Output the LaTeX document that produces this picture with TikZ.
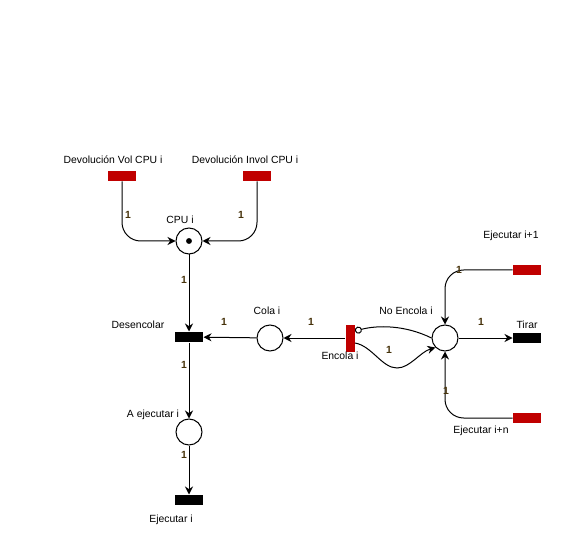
\documentclass[tikz,border=0pt]{standalone}
\usepackage{fontspec}
\setmainfont{Liberation Sans}
\usetikzlibrary{arrows.meta}
\definecolor{rojo}{RGB}{192,0,0}
\definecolor{peso}{RGB}{70,50,10}

\begin{document}
\begin{tikzpicture}[x=0.75pt, y=-0.75pt, >={Stealth[length=6pt,width=6pt]}, line width=0.75pt,
    font=\fontsize{7.8}{9}\selectfont,
    lugar/.style={draw, circle, fill=white, minimum size=19.5pt, inner sep=0pt},
    trans/.style={draw=none, fill=black, minimum width=21pt, minimum height=7.5pt, inner sep=0pt},
    transr/.style={trans, fill=rojo},
    pesos/.style={text=peso, font=\fontsize{7.8}{9}\selectfont\bfseries, inner sep=0pt}]
  \useasboundingbox (0,0) rectangle (571,552);
  % lugares
  \node[lugar] (cpu) at (189,241) {};
  \fill (cpu) circle (2.2pt);
  \node[lugar] (cola) at (270,338) {};
  \node[lugar] (noenc) at (445,338) {};
  \node[lugar] (aej) at (189,432) {};
  % transiciones
  \node[transr] (vol) at (122,176) {};
  \node[transr] (invol) at (257,176) {};
  \node[trans] (desenc) at (189,337) {};
  \node[transr, minimum width=6.75pt, minimum height=20.25pt] (enc) at (350,338) {};
  \node[transr] (ejsig) at (527,270) {};
  \node[trans] (tirar) at (527,338) {};
  \node[transr] (ejn) at (527,418) {};
  \node[trans] (ejec) at (189,500) {};
  % etiquetas
  \node (tvol) at (113,160) {Devolución Vol CPU i};
  \node (tinvol) at (245,160) {Devolución Invol CPU i};
  \node (tcpu) at (180,220) {CPU i};
  \node (tdesenc) at (138,325) {Desencolar};
  \node (tcola) at (267,311) {Cola i};
  \node (tnoenc) at (406,311) {No Encola i};
  \node (tenc) at (340,356) {Encola i};
  \node (tejsig) at (511,236) {Ejecutar i+1};
  \node (ttirar) at (527,325) {Tirar};
  \node (tejn) at (481,431) {Ejecutar i+n};
  \node (taej) at (153,415) {A ejecutar i};
  \node (tejec) at (171,520) {Ejecutar i};
  % arcos
  \draw[->, rounded corners=14pt] (vol.south) |- (cpu.west);
  \draw[->, rounded corners=14pt] (invol.south) |- (cpu.east);
  \draw[->] (cpu) -- (desenc);
  \draw[->] (desenc) -- (aej);
  \draw[->] (aej) -- (ejec);
  \draw[->] (cola) -- (desenc);
  \draw[->] (enc) -- (cola);
  \draw[-{Circle[open,length=5.25pt]}] (noenc.west) .. controls (405,325) and (378,325) .. ([yshift=5.25pt]enc.east);
  \draw[->] ([yshift=-3.75pt]enc.east) .. controls (372,346) and (382,368) .. (397,368)
    .. controls (410,368) and (420,352) .. (noenc.south west);
  \draw[->, rounded corners=14pt] (ejsig.west) -| (noenc.north);
  \draw[->] (noenc) -- (tirar);
  \draw[->, rounded corners=14pt] (ejn.west) -| (noenc.south);
  % pesos
  \node[pesos] (p1) at (128,215) {1};
  \node[pesos] (p2) at (241,215) {1};
  \node[pesos] (p3) at (184,280) {1};
  \node[pesos] (p4) at (224,322) {1};
  \node[pesos] (p5) at (311,322) {1};
  \node[pesos] (p6) at (184,365) {1};
  \node[pesos] (p7) at (184,455) {1};
  \node[pesos] (p8) at (389,350) {1};
  \node[pesos] (p9) at (459,270) {1};
  \node[pesos] (p10) at (481,322) {1};
  \node[pesos] (p11) at (446,391) {1};
\end{tikzpicture}
\end{document}
